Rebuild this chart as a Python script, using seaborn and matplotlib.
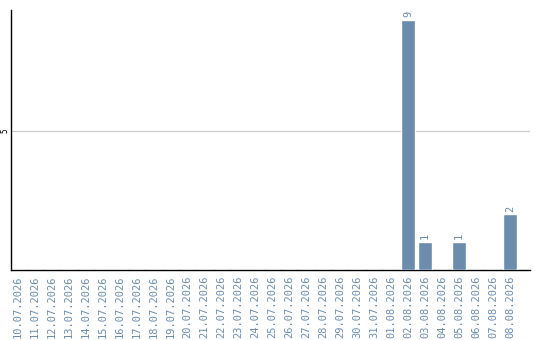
import matplotlib
matplotlib.use("Agg")
import matplotlib.pyplot as plt
import seaborn as sns
import pandas as pd

# Daily counts, 10.07.2026 – 08.08.2026
dates = ["10.07.2026", "11.07.2026", "12.07.2026", "13.07.2026", "14.07.2026",
         "15.07.2026", "16.07.2026", "17.07.2026", "18.07.2026", "19.07.2026",
         "20.07.2026", "21.07.2026", "22.07.2026", "23.07.2026", "24.07.2026",
         "25.07.2026", "26.07.2026", "27.07.2026", "28.07.2026", "29.07.2026",
         "30.07.2026", "31.07.2026", "01.08.2026", "02.08.2026", "03.08.2026",
         "04.08.2026", "05.08.2026", "06.08.2026", "07.08.2026", "08.08.2026"]
counts = [0, 0, 0, 0, 0, 0, 0, 0, 0, 0,
          0, 0, 0, 0, 0, 0, 0, 0, 0, 0,
          0, 0, 0, 9, 1, 0, 1, 0, 0, 2]
y_ticks = [5]

df = pd.DataFrame({"date": dates, "count": counts})

sns.set_style("white")
plt.rcParams["font.family"] = ["DejaVu Sans Mono", "DejaVu Sans"]

bar_color = "#6b8cac"
label_color = "#6b8cac"

fig = plt.figure(figsize=(5.4, 3.4), dpi=100)
ax = fig.add_axes([11 / 540, 70 / 340, 519 / 540, 260 / 340])

sns.barplot(data=df, x="date", y="count", order=dates, color=bar_color,
            width=0.82, saturation=1, ax=ax, zorder=3)

ax.set_xlim(-0.42, len(dates) - 1 + 1.18)
ax.set_ylim(0, 9.36)
ax.set_yticks(y_ticks)
ax.set_yticklabels([str(t) for t in y_ticks], rotation=90, va="center",
                   fontsize=5.5, color="black")
ax.yaxis.grid(True, color="#cccccc", linewidth=0.9, zorder=0)
ax.set_axisbelow(True)

ax.tick_params(axis="y", length=0, pad=1)
ax.tick_params(axis="x", length=0, pad=4)
ax.set_xticks(range(len(dates)))
ax.set_xticklabels(dates, rotation=90, fontsize=7.5, color=label_color,
                   va="top", ha="center")
ax.set_xlabel("")
ax.set_ylabel("")

for s in ["top", "right"]:
    ax.spines[s].set_visible(False)
for s in ["left", "bottom"]:
    ax.spines[s].set_color("black")
    ax.spines[s].set_linewidth(1.0)

for i, v in enumerate(counts):
    if v > 0:
        ax.text(i, v + 0.1, str(v), rotation=90, ha="center", va="bottom",
                fontsize=7.5, color=label_color)

fig.savefig("out.png", dpi=100)
